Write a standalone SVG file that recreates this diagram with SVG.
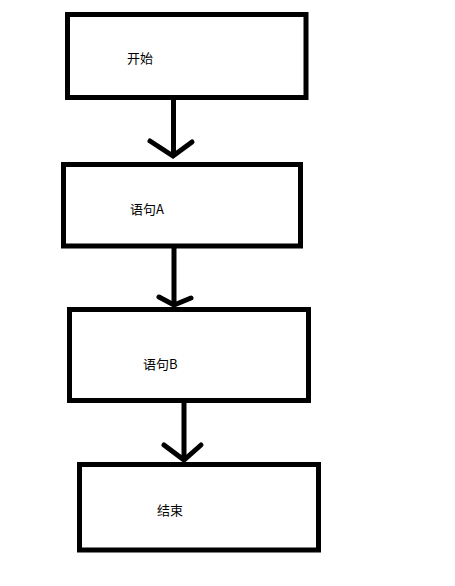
<svg xmlns="http://www.w3.org/2000/svg" width="455" height="586" viewBox="0 0 455 586">
<style>
.box{fill:#fff;stroke:#000;stroke-width:5}
.lbl{font-family:"Noto Sans CJK SC","Microsoft YaHei",sans-serif;font-size:13px;fill:#000}
.conn line,.conn polyline{stroke:#000;stroke-width:5;fill:none}
.conn polyline{stroke-linejoin:miter;stroke-linecap:round}
</style>
<rect width="455" height="586" fill="#fff"/>
<g class="conn" id="connectors">
<line x1="173.5" y1="100" x2="173.5" y2="156"/>
<polyline points="150,141 173,156 192,142"/>
<line x1="174" y1="248" x2="174" y2="304"/>
<polyline points="159,297 174,305 191,298"/>
<line x1="184" y1="403" x2="184" y2="459"/>
<polyline points="164,445 184,460 201,445"/>
</g>
<g id="start">
<rect class="box" x="67.5" y="14.5" width="238.5" height="83"/>
<text class="lbl" x="127" y="63">开始</text>
</g>
<g id="stmtA">
<rect class="box" x="63.5" y="164.5" width="237" height="81.5"/>
<text class="lbl" x="130" y="214">语句A</text>
</g>
<g id="stmtB">
<rect class="box" x="69.5" y="309.5" width="239" height="91"/>
<text class="lbl" x="143" y="369">语句B</text>
</g>
<g id="end">
<rect class="box" x="79.5" y="464.5" width="239" height="85.5"/>
<text class="lbl" x="157" y="515">结束</text>
</g>
</svg>
